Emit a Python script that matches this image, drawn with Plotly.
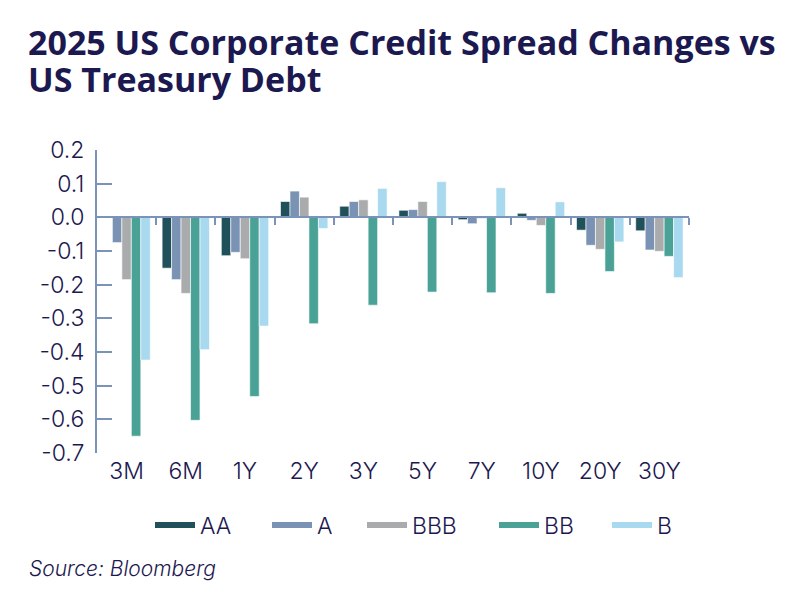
import plotly.graph_objects as go

categories = ["3M", "6M", "1Y", "2Y", "3Y", "5Y", "7Y", "10Y", "20Y", "30Y"]
series_names = ["AA", "A", "BBB", "BB", "B"]
aa = [0.0, -0.151, -0.114, 0.047, 0.033, 0.021, -0.007, 0.012, -0.038, -0.040]
a = [-0.075, -0.185, -0.104, 0.078, 0.047, 0.023, -0.019, -0.009, -0.083, -0.097]
bbb = [-0.185, -0.226, -0.123, 0.060, 0.052, 0.047, -0.003, -0.024, -0.095, -0.101]
bb = [-0.650, -0.603, -0.532, -0.316, -0.261, -0.222, -0.224, -0.226, -0.161, -0.116]
b = [-0.424, -0.393, -0.323, -0.033, 0.086, 0.106, 0.088, 0.046, -0.073, -0.179]
y_ticks = [0.2, 0.1, 0.0, -0.1, -0.2, -0.3, -0.4, -0.5, -0.6, -0.7]
y_tick_text = ["0.2", "0.1", "0.0", "-0.1", "-0.2", "-0.3", "-0.4", "-0.5", "-0.6", "-0.7"]
title_lines = ["2025 US Corporate Credit Spread Changes vs", "US Treasury Debt"]
source_text = "Source: Bloomberg"

colors = ["#20505a", "#7a93b5", "#aaabad", "#4aa296", "#a9d9ee"]
values = [aa, a, bbb, bb, b]
legend_starts = [156, 273, 368, 500, 613]  # pixel x of each legend swatch
navy = "#1c1850"
axis_col = "#7b93b8"

fig = go.Figure()
for name, vals, col in zip(series_names, values, colors):
    fig.add_trace(go.Bar(x=categories, y=vals, name=name, marker=dict(color=col, line=dict(color="white", width=0.6)),
                         showlegend=False))
# legend proxies (line symbols), each in its own legend for exact placement
legend_ids = ["legend"] + ["legend%d" % (i + 2) for i in range(len(series_names) - 1)]
for name, col, lid in zip(series_names, colors, legend_ids):
    fig.add_trace(go.Scatter(x=[None], y=[None], mode="lines", name=name, xaxis="x2", legend=lid,
                             line=dict(color=col, width=6)))

ymin, ymax = -0.7, 0.2
zero_pos = (0 - ymin) / (ymax - ymin)
n = len(categories)
light = dict(family="Inter, sans-serif", color=navy, weight=300)

L, R, T, B = 97, 111, 150, 159
PW, PH = 800 - L - R, 612 - T - B


def px_x(x):
    return (x - L) / PW


def px_y(y):
    return (612 - B - y) / PH


annotations = []
for line, ypx in zip(title_lines, [42, 79]):
    annotations.append(dict(text="<b>" + line + "</b>", xref="paper", yref="paper", x=px_x(26), y=px_y(ypx),
                            xanchor="left", yanchor="middle", showarrow=False,
                            font=dict(family="Open Sans, sans-serif", size=34, color=navy)))
annotations.append(dict(text="<i>" + source_text + "</i>", xref="paper", x=px_x(27), y=px_y(568), yref="paper",
                        showarrow=False, xanchor="left", yanchor="middle", font=dict(size=21, **light)))

fig.update_layout(
    width=800, height=612,
    paper_bgcolor="white", plot_bgcolor="white",
    margin=dict(l=L, r=R, t=T, b=B, autoexpand=False),
    barmode="group", bargap=0.2, bargroupgap=0,
    font=dict(family="Inter, Roboto, sans-serif", color=navy),
    xaxis=dict(type="category", range=[-0.5, n - 0.5], showline=False, ticks="", showgrid=False,
               tickfont=dict(size=23, **light), ticklabelstandoff=2),
    xaxis2=dict(overlaying="x", anchor="free", position=zero_pos, range=[-0.5, n - 0.5],
                tickvals=[i + 0.5 for i in range(n)], showticklabels=False, ticks="outside",
                ticklen=7, tickwidth=2, tickcolor=axis_col, showline=True, linecolor=axis_col,
                linewidth=2, showgrid=False, zeroline=False, side="bottom"),
    yaxis=dict(range=[ymin, ymax], tickvals=y_ticks, ticktext=y_tick_text, showgrid=False, zeroline=False,
               showline=True, linecolor=axis_col, linewidth=2, ticks="inside", ticklen=15, tickwidth=2,
               tickcolor=axis_col, tickfont=dict(size=23, **light), ticklabelstandoff=6),
    annotations=annotations,
)
for lid, xs in zip(legend_ids, legend_starts):
    fig.update_layout({lid: dict(orientation="h", xref="container", x=(xs - 6) / 800, xanchor="left",
                                 yref="container", y=1 - 525 / 612, yanchor="middle",
                                 font=dict(size=23, **light), itemwidth=40, bgcolor="rgba(0,0,0,0)")})

fig.write_html("out.html")
